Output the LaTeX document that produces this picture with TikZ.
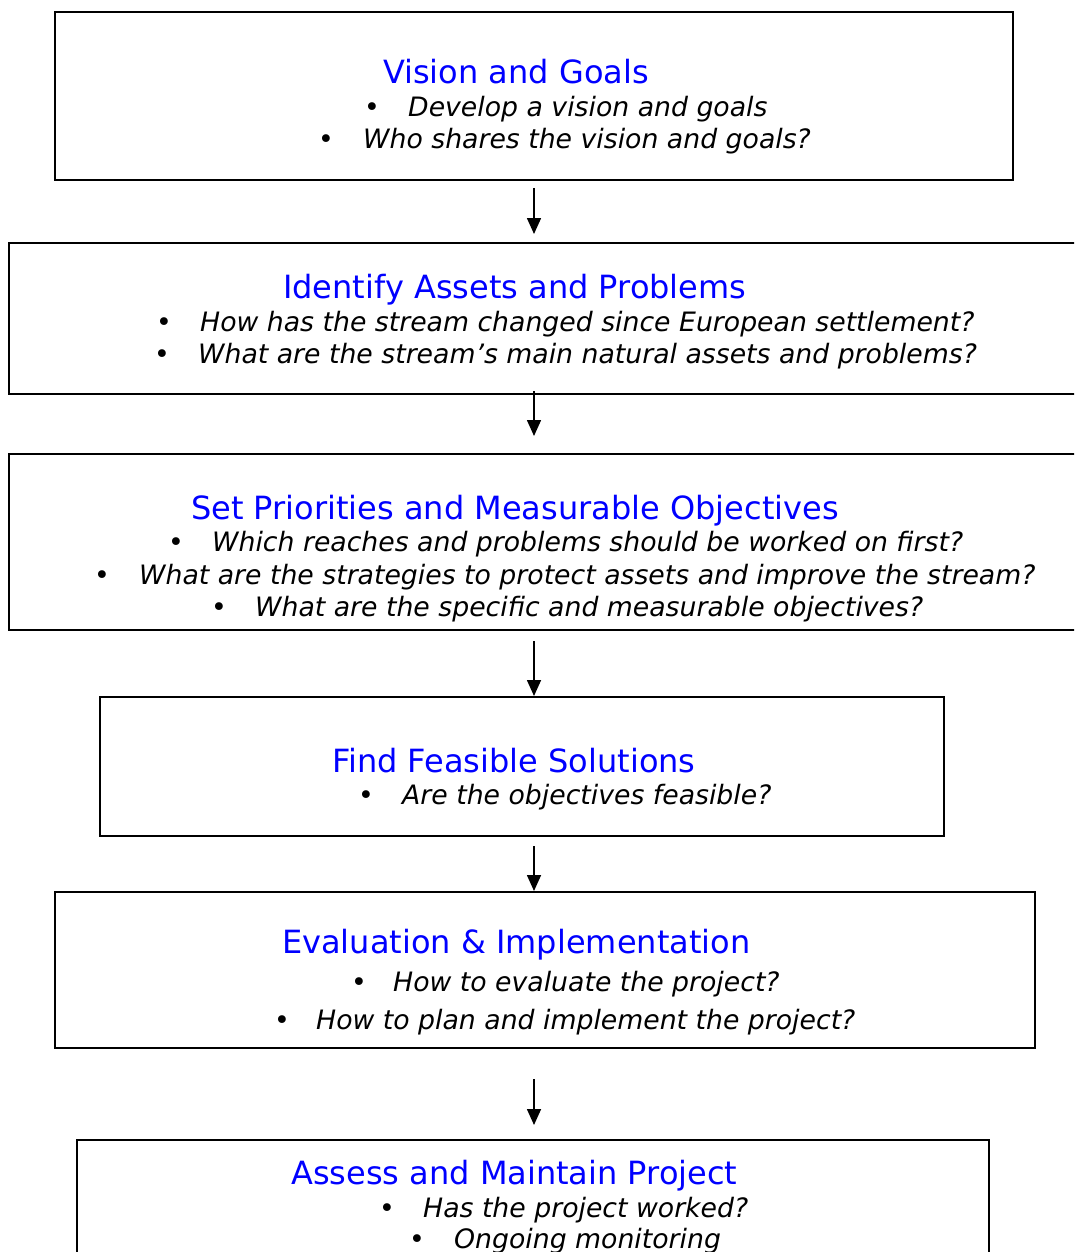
\documentclass[tikz,border=0pt]{standalone}
\usepackage{fontspec}
\setmainfont{DejaVu Sans}[ItalicFont={DejaVu Sans Oblique}]
\usepackage{tikz}
\usetikzlibrary{arrows.meta}
\definecolor{titleblue}{RGB}{0,0,255}
\tikzstyle{stepbox} = [rectangle, draw=black, line width=2pt, inner sep=0pt]
\tikzstyle{heading} = [anchor=base west, inner sep=0pt, text=titleblue, font=\fontsize{32}{32}\selectfont]
\tikzstyle{point} = [anchor=base west, inner sep=0pt, font=\fontsize{26.7}{26.7}\selectfont\itshape]
\tikzstyle{arrow} = [line width=1.6pt, -{Triangle[length=16pt,width=14pt]}]
\newcommand{\bitem}[2][44pt]{\makebox[#1][l]{\upshape\textbullet}#2}

\begin{document}
\begin{tikzpicture}[x=1pt,y=-1pt]
        \useasboundingbox (0,0) rectangle (1074,1252);
        \clip (0,0) rectangle (1074,1252);
        \coordinate (axis) at (534,0);

        % boxes
        \node (vision) [stepbox, minimum width=958, minimum height=168] at (534,96) {};
        \node (assets) [stepbox, minimum width=1081, minimum height=151] at (549.5,318.5) {};
        \node (priorities) [stepbox, minimum width=1081, minimum height=176] at (549.5,542) {};
        \node (solutions) [stepbox, minimum width=844, minimum height=139] at (522,766.5) {};
        \node (evaluation) [stepbox, minimum width=980, minimum height=156] at (545,970) {};
        \node (maintain) [stepbox, minimum width=912, minimum height=140] at (533,1210) {};

        % texts
        \node (visionTitle) [heading] at (383,84) {Vision and Goals};
        \node (visionA) [point] at (364,117) {\bitem{Develop a vision and goals}};
        \node (visionB) [point] at (318,149) {\bitem[45pt]{Who shares the vision and goals?}};

        \node (assetsTitle) [heading] at (283,298) {Identify Assets and Problems};
        \node (assetsA) [point] at (156,331) {\bitem{How has the stream changed since European settlement?}};
        \node (assetsB) [point] at (154,363) {\bitem{What are the stream’s main natural assets and problems?}};

        \node (prioritiesTitle) [heading] at (191,519) {Set Priorities and Measurable Objectives};
        \node (prioritiesA) [point] at (168,551) {\bitem{Which reaches and problems should be worked on first?}};
        \node (prioritiesB) [point] at (94,584) {\bitem[45pt]{What are the strategies to protect assets and improve the stream?}};
        \node (prioritiesC) [point] at (211,616) {\bitem{What are the specific and measurable objectives?}};

        \node (solutionsTitle) [heading] at (332,772) {Find Feasible Solutions};
        \node (solutionsA) [point] at (358,804) {\bitem{Are the objectives feasible?}};

        \node (evaluationTitle) [heading] at (282,953) {Evaluation \& Implementation};
        \node (evaluationA) [point] at (351,991) {\bitem[42pt]{How to evaluate the project?}};
        \node (evaluationB) [point] at (274,1029) {\bitem[42pt]{How to plan and implement the project?}};

        \node (maintainTitle) [heading] at (291,1184) {Assess and Maintain Project};
        \node (maintainA) [point] at (379,1217) {\bitem{Has the project worked?}};
        \node (maintainB) [point] at (409,1248) {\bitem[45pt]{Ongoing monitoring}};

        % arrows
        \draw [arrow, shorten <=7pt, shorten >=8pt] (vision.south -| axis) -- (assets.north -| axis);
        \draw [arrow, shorten <=-4pt, shorten >=17pt] (assets.south -| axis) -- (priorities.north -| axis);
        \draw [arrow, shorten <=10pt] (priorities.south -| axis) -- (solutions.north -| axis);
        \draw [arrow, shorten <=9pt] (solutions.south -| axis) -- (evaluation.north -| axis);
        \draw [arrow, shorten <=30pt, shorten >=14pt] (evaluation.south -| axis) -- (maintain.north -| axis);
    \end{tikzpicture}
\end{document}
